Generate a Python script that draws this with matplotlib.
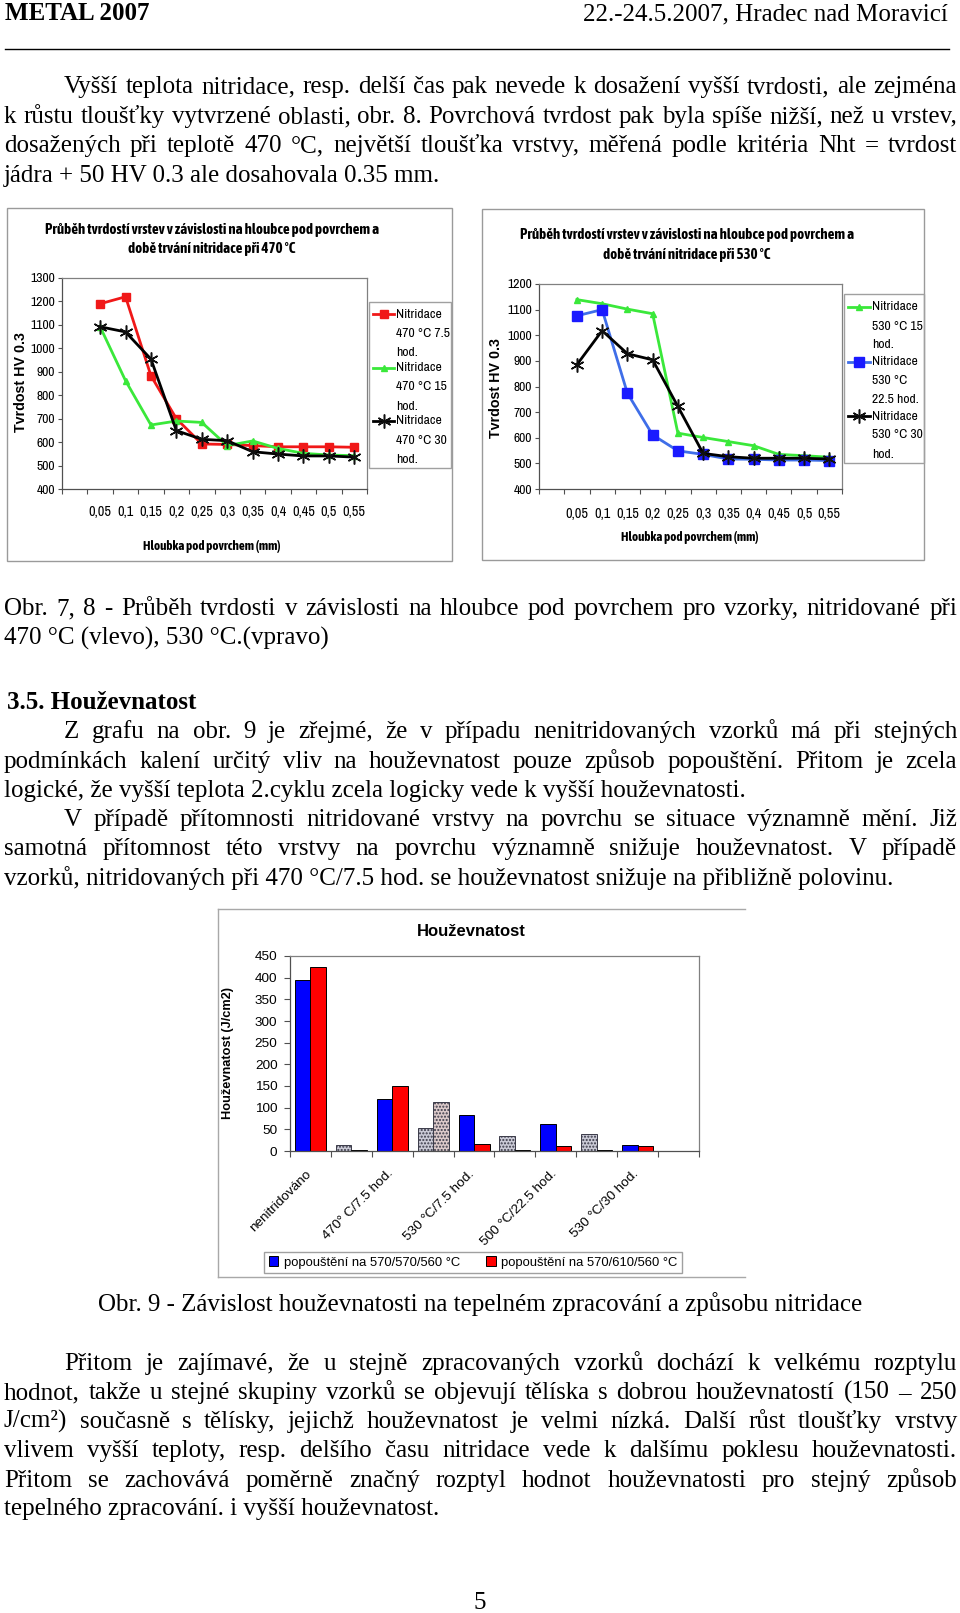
import numpy as np
import matplotlib
matplotlib.use("Agg")
import matplotlib.pyplot as plt
from matplotlib import font_manager
from matplotlib.patches import Rectangle, Patch
from matplotlib.lines import Line2D
from matplotlib.transforms import ScaledTranslation

# --- data ---
DEPTH_LABELS = ['', '0,05', '0,1', '0,15', '0,2', '0,25', '0,3', '0,35', '0,4', '0,45', '0,5', '0,55']

HV_470_7_5 = [np.nan, 1190, 1220, 883, 700, 592, 590, 585, 580, 580, 580, 578]
HV_470_15 = [np.nan, 1092, 862, 673, 690, 684, 585, 605, 573, 552, 545, 542]
HV_470_30 = [np.nan, 1092, 1070, 954, 649, 612, 606, 559, 549, 541, 541, 536]

HV_530_15 = [np.nan, 1139, 1123, 1102, 1084, 618, 601, 585, 569, 535, 530, 524]
HV_530_22_5 = [np.nan, 1076, 1100, 774, 611, 549, 535, 517, 516, 513, 513, 511]
HV_530_30 = [np.nan, 885, 1018, 928, 904, 722, 539, 526, 520, 520, 520, 517]

LABELS_470 = ['Nitridace\n470 °C 7.5\nhod.', 'Nitridace\n470 °C 15\nhod.', 'Nitridace\n470 °C 30\nhod.']
LABELS_530 = ['Nitridace\n530 °C 15\nhod.', 'Nitridace\n530 °C\n22.5 hod.', 'Nitridace\n530 °C 30\nhod.']

TREATMENTS = ['nenitridováno', '', '470° C/7.5 hod.', '', '530 °C/7.5 hod.', '',
              '500 °C/22.5 hod.', '', '530 °C/30 hod.']
TOUGH_570_570 = [395, 15, 120, 52, 82, 35, 62, 40, 13]
TOUGH_570_610 = [424, 3, 150, 112, 16, 3, 11, 3, 11]
BAR_LABELS = ['popouštění na 570/570/560 °C', 'popouštění na 570/610/560 °C']


# --- fonts: the charts use a narrow sans, take one if there is any ---
def pick_narrow():
    fonts = font_manager.fontManager.ttflist
    names = sorted({f.name for f in fonts})

    def weight(f):
        w = f.weight
        return font_manager.weight_dict.get(w, 400) if isinstance(w, str) else w

    def has_bold(name, stretch):
        return any(f.name == name and weight(f) >= 600 and (stretch == 'normal' or f.stretch == stretch)
                   for f in fonts)

    cands = [(n, 'normal', 1.0) for n in ('Liberation Sans Narrow', 'Arial Narrow') if n in names]
    cands += [(n, 'normal', 1.0) for n in names
              if ('Narrow' in n or 'Condensed' in n) and 'Serif' not in n and 'Mono' not in n]
    sans = ('Liberation Sans', 'DejaVu Sans', 'Noto Sans', 'Open Sans', 'Roboto', 'Lato', 'Inter')
    for st, k in (('condensed', 1.0), ('semi-condensed', 0.93)):
        cands += [(n, st, k) for n in sans if any(f.name == n and f.stretch == st for f in fonts)]
    fallback = ('Liberation Sans', 'normal', 0.83)
    regular = cands[0] if cands else fallback
    bold = next((c for c in cands if has_bold(c[0], c[1])), fallback)
    return regular, bold


(NARROW, NSTRETCH, NK), (BNARROW, BSTRETCH, BK) = pick_narrow()
NFONT = dict(family=NARROW, stretch=NSTRETCH)
BFONT = dict(family=BNARROW, stretch=BSTRETCH, weight='bold')
SERIF = ['Liberation Serif', 'DejaVu Serif']
SANS = ['Liberation Sans', 'DejaVu Sans']
BODY = 18

W, H = 960, 1613
fig = plt.figure(figsize=(W / 100, H / 100), dpi=100)
fig.patch.set_facecolor('white')
renderer = fig.canvas.get_renderer()


def fx(x):
    return x / W


def fy(y):
    return 1 - y / H


def add_axes_px(l, t, r, b):
    return fig.add_axes([fx(l), fy(b), (r - l) / W, (b - t) / H])


# --- body text ---
LEFT, RIGHT, INDENT = 4, 957, 64


def body_line(txt, y, justify=False, indent=False, weight='normal', x0=None):
    start = (INDENT if indent else LEFT) if x0 is None else x0
    base = fy(y + 7)
    if not justify:
        fig.text(fx(start), base, txt, family=SERIF, size=BODY, weight=weight, va='baseline')
        return
    words = txt.split(' ')
    objs = [fig.text(0, base, w, family=SERIF, size=BODY, weight=weight, va='baseline') for w in words]
    widths = [o.get_window_extent(renderer).width for o in objs]
    gap = (RIGHT - start - sum(widths)) / (len(words) - 1)
    x = start
    for o, w in zip(objs, widths):
        o.set_x(fx(x))
        x += w + gap


fig.text(fx(5), fy(20), 'METAL 2007', family=SERIF, size=BODY, weight='bold', va='baseline')
fig.text(fx(948), fy(20), '22.-24.5.2007, Hradec nad Moravicí', family=SERIF, size=BODY,
         ha='right', va='baseline')
fig.add_artist(Line2D([fx(5), fx(949)], [fy(48.5)] * 2, color='black', lw=1.0))

para1 = [
    ("Vyšší teplota nitridace, resp. delší čas pak nevede k dosažení vyšší tvrdosti, ale zejména", True, True),
    ("k růstu tloušťky vytvrzené oblasti, obr. 8. Povrchová tvrdost pak byla spíše nižší, než u vrstev,", True, False),
    ("dosažených při teplotě 470 °C, největší tloušťka vrstvy, měřená podle kritéria Nht = tvrdost", True, False),
    ("jádra + 50 HV 0.3 ale dosahovala 0.35 mm.", False, False),
]
for (txt, just, ind), y in zip(para1, [86, 116, 145, 175]):
    body_line(txt, y, just, ind)

body_line("Obr. 7, 8 - Průběh tvrdosti v závislosti na hloubce pod povrchem pro vzorky, nitridované při",
          608, True, False)
body_line("470 °C (vlevo), 530 °C.(vpravo)", 638)
body_line("3.5. Houževnatost", 702, weight='bold', x0=7)

para2 = [
    ("Z grafu na obr. 9 je zřejmé, že v případu nenitridovaných vzorků má při stejných", True, True),
    ("podmínkách kalení určitý vliv na houževnatost pouze způsob popouštění. Přitom je zcela", True, False),
    ("logické, že vyšší teplota 2.cyklu zcela logicky vede k vyšší houževnatosti.", False, False),
    ("V případě přítomnosti nitridované vrstvy na povrchu se situace významně mění. Již", True, True),
    ("samotná přítomnost této vrstvy na povrchu významně snižuje houževnatost. V případě", True, False),
    ("vzorků, nitridovaných při 470 °C/7.5 hod. se houževnatost snižuje na přibližně polovinu.", False, False),
]
for (txt, just, ind), y in zip(para2, [731, 761, 790, 819, 848, 878]):
    body_line(txt, y, just, ind)

fig.text(fx(480), fy(1304 + 7), "Obr. 9 - Závislost houževnatosti na tepelném zpracování a způsobu nitridace",
         family=SERIF, size=BODY, ha='center', va='baseline')

para3 = [
    ("Přitom je zajímavé, že u stejně zpracovaných vzorků dochází k velkému rozptylu", True, True),
    ("hodnot, takže u stejné skupiny vzorků se objevují tělíska s dobrou houževnatostí (150 – 250", True, False),
    ("J/cm²) současně s tělísky, jejichž houževnatost je velmi nízká. Další růst tloušťky vrstvy", True, False),
    ("vlivem vyšší teploty, resp. delšího času nitridace vede k dalšímu poklesu houževnatosti.", True, False),
    ("Přitom se zachovává poměrně značný rozptyl hodnot houževnatosti pro stejný způsob", True, False),
    ("tepelného zpracování. i vyšší houževnatost.", False, False),
]
for (txt, just, ind), y in zip(para3, [1363, 1392, 1421, 1450, 1480, 1508]):
    body_line(txt, y, just, ind)

fig.text(fx(480), fy(1609), "5", family=SERIF, size=BODY, ha='center', va='baseline')


# --- helpers for the charts ---
def frame_box(l, t, r, b, color='#9a9a9a'):
    fig.add_artist(Rectangle((fx(l), fy(b)), (r - l) / W, (b - t) / H, transform=fig.transFigure,
                             fill=False, ec=color, lw=1.0))


def style_axes(ax):
    for s in ax.spines.values():
        s.set_color('#808080')
        s.set_linewidth(0.9)
    ax.spines['left'].set_color('#505050')
    ax.spines['bottom'].set_color('#505050')


def hardness_chart(plot_rect, ymax, series, xpad):
    ax = add_axes_px(*plot_rect)
    slots = np.arange(len(DEPTH_LABELS))
    for vals, st in series:
        ax.plot(slots, vals, **st)
    ax.set_xlim(-0.5, len(DEPTH_LABELS) - 0.5)
    ax.set_ylim(400, ymax)
    ax.set_yticks(np.arange(400, ymax + 1, 100))
    ax.set_xticks(slots)
    ax.set_xticklabels(DEPTH_LABELS)
    ax.set_xticks(np.arange(-0.5, len(DEPTH_LABELS), 1.0), minor=True)
    ax.tick_params(axis='x', which='major', length=0, pad=xpad, labelsize=10.3 * NK)
    ax.tick_params(axis='x', which='minor', length=3.5, width=0.8, color='#505050', direction='out')
    ax.tick_params(axis='y', length=3, width=0.8, color='#505050', direction='out', pad=2,
                   labelsize=9.8 * NK)
    for lab in ax.get_xticklabels() + ax.get_yticklabels():
        lab.set_family(NARROW)
        lab.set_stretch(NSTRETCH)
    style_axes(ax)
    return ax


def chart_title(x, y, txt, gap_px):
    size = 10.7 * BK
    ls = gap_px / (0.92 * size * 100 / 72)
    fig.text(fx(x), fy(y), txt, size=size, ha='center', va='center', linespacing=ls, **BFONT)


def line_legend(labels, series, box, hx, tx, y0, line_step, entry_step):
    frame_box(*box, color='#a0a0a0')
    for i, (lab, (_, st)) in enumerate(zip(labels, series)):
        y = y0 + i * entry_step
        fig.add_artist(Line2D([fx(hx[0]), fx(hx[1])], [fy(y)] * 2, color=st['color'], lw=st['lw']))
        fig.add_artist(Line2D([fx((hx[0] + hx[1]) / 2)], [fy(y)], ls='none', marker=st['marker'],
                              ms=st['ms'], mfc=st.get('mfc', st['color']),
                              mec=st.get('mec', st['color']), mew=st.get('mew', 1)))
        for j, part in enumerate(lab.split('\n')):
            fig.text(fx(tx), fy(y + j * line_step), part, size=min(9.8, 10.2 * NK), va='center', **NFONT)


ASTER = (6, 2, 0)

# --- left chart: 470 °C ---
frame_box(7, 208, 452, 561)
series_470 = [
    (HV_470_7_5, dict(color='#f01818', lw=2.0, marker='s', ms=5.5, mfc='#f01818', mec='#f01818')),
    (HV_470_15, dict(color='#3ae83a', lw=2.0, marker='^', ms=4.5, mfc='#3ae83a', mec='#3ae83a')),
    (HV_470_30, dict(color='#000000', lw=2.0, marker=ASTER, ms=10, mfc='none', mec='#101010', mew=1.1)),
]
hardness_chart((62, 278, 367, 489), 1300, series_470, 11.5)
chart_title(212, 239.5, 'Průběh tvrdostí vrstev v závislosti na hloubce pod povrchem a\n'
            'době trvání nitridace při 470 °C', 21)
fig.text(fx(21), fy(382), 'Tvrdost HV 0.3', family=SANS, weight='bold', size=10.3, rotation=90,
         ha='center', va='center')
fig.text(fx(212), fy(547), 'Hloubka pod povrchem (mm)', size=9.4 * BK,
         ha='center', va='center', **BFONT)
line_legend(LABELS_470, series_470, (369, 302, 451, 468), (373, 394), 396, 314, 19.3, 53.5)

# --- right chart: 530 °C ---
frame_box(482, 209, 924, 560)
series_530 = [
    (HV_530_15, dict(color='#3ae83a', lw=2.0, marker='^', ms=4.5, mfc='#3ae83a', mec='#3ae83a')),
    (HV_530_22_5, dict(color='#3f6ee8', lw=2.0, marker='s', ms=6.5, mfc='#1a1aff', mec='#1a1aff')),
    (HV_530_30, dict(color='#000000', lw=2.0, marker=ASTER, ms=10, mfc='none', mec='#101010', mew=1.1)),
]
hardness_chart((539, 284, 842, 489), 1200, series_530, 13)
chart_title(687, 245, 'Průběh tvrdostí vrstev v závislosti na hloubce pod povrchem a\n'
            'době trvání nitridace při 530 °C', 22)
fig.text(fx(496), fy(388), 'Tvrdost HV 0.3', family=SANS, weight='bold', size=10.3, rotation=90,
         ha='center', va='center')
fig.text(fx(690), fy(538), 'Hloubka pod povrchem (mm)', size=9.4 * BK,
         ha='center', va='center', **BFONT)
line_legend(LABELS_530, series_530, (844, 294, 924, 463), (848, 870), 872, 307, 19, 54.5)

# --- bar chart: toughness ---
for seg in ([218, 218], [909, 1277]), ([218, 745], [909, 909]), ([218, 745], [1277, 1277]):
    fig.add_artist(Line2D([fx(v) for v in seg[0]], [fy(v) for v in seg[1]], color='#a8a8a8', lw=1.0))

MUTED = {1, 3, 5, 7}
ax = add_axes_px(290, 956, 699, 1151)
pos = np.arange(len(TREATMENTS))
bw = 0.38
b1 = ax.bar(pos - bw / 2, TOUGH_570_570, bw, color='#0000ff', edgecolor='black', lw=0.7)
b2 = ax.bar(pos + bw / 2, TOUGH_570_610, bw, color='#ff0000', edgecolor='black', lw=0.7)
plt.rcParams['hatch.linewidth'] = 0.6
for i in MUTED:
    b1[i].set_facecolor('#cacad6')
    b1[i].set_edgecolor('#3a3a48')
    b1[i].set_hatch('.....')
    if i == 3:
        b2[i].set_facecolor('#dccaca')
        b2[i].set_edgecolor('#3a3a48')
        b2[i].set_hatch('.....')
    else:
        b2[i].set_facecolor('#202020')
ax.set_xlim(-0.5, len(TREATMENTS) + 0.5)
ax.set_ylim(0, 450)
ax.set_yticks(np.arange(0, 451, 50))
ax.set_xticks(pos)
ax.set_xticklabels(TREATMENTS, rotation=45, ha='right', va='top', rotation_mode='anchor')
ax.set_xticks(np.arange(-0.5, len(TREATMENTS) + 0.6, 1.0), minor=True)
ax.tick_params(axis='x', which='major', length=0, pad=12, labelsize=9.7)
ax.tick_params(axis='x', which='minor', length=4, width=0.8, color='#505050', direction='out')
ax.tick_params(axis='y', length=4, width=0.8, color='#505050', direction='out', pad=5, labelsize=9.7)
for lab in ax.get_xticklabels():
    lab.set_transform(lab.get_transform() + ScaledTranslation(-4 / 72, 0, fig.dpi_scale_trans))
for lab in ax.get_xticklabels() + ax.get_yticklabels():
    lab.set_family(SANS)
style_axes(ax)

fig.text(fx(471), fy(932), 'Houževnatost', family=SANS, weight='bold', size=12, ha='center', va='center')
fig.text(fx(228), fy(1053), 'Houževnatost (J/cm2)', family=SANS, weight='bold', size=9.2,
         rotation=90, ha='center', va='center')
fig.legend(handles=[Patch(fc='#0000ff', ec='black', lw=0.7), Patch(fc='#ff0000', ec='black', lw=0.7)],
           labels=BAR_LABELS, ncol=2, loc='center', bbox_to_anchor=(fx(473), fy(1262.5)),
           frameon=True, fancybox=False, edgecolor='#a0a0a0', framealpha=1,
           prop={'family': SANS, 'size': 9.4}, handlelength=0.75, handleheight=0.75,
           handletextpad=0.4, columnspacing=2.0, borderpad=0.35)

fig.savefig('out.png', dpi=100, facecolor='white')
